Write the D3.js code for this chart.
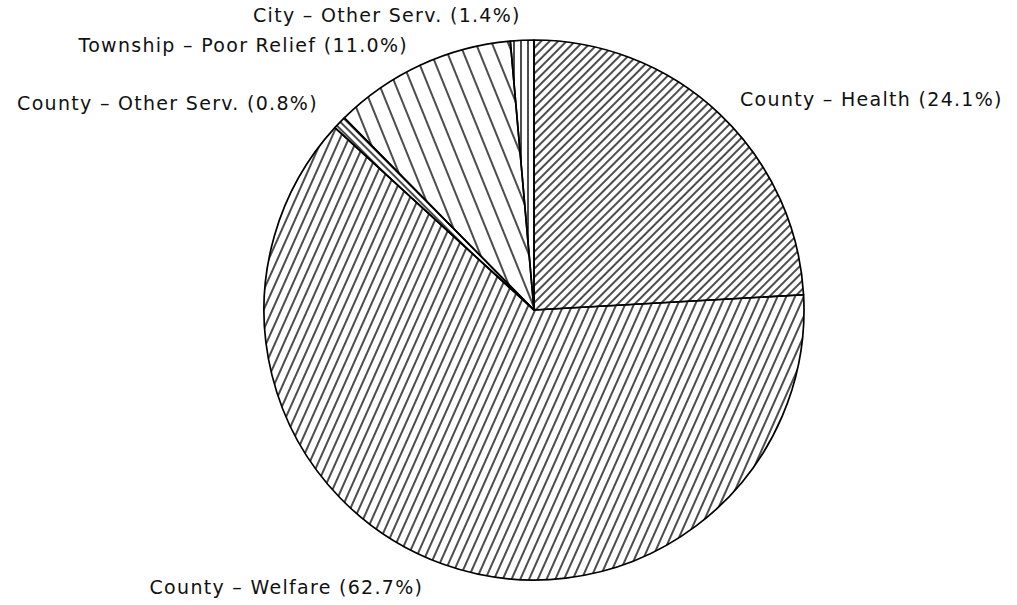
<!DOCTYPE html>
<html>
<head>
<meta charset="utf-8">
<script src="https://cdn.jsdelivr.net/npm/d3@7"></script>
<style>
  body { margin: 0; background: #fff; }
  svg { display: block; }
  text { font-family: "DejaVu Sans", sans-serif; font-size: 19px; letter-spacing: 1.3px; fill: #111; }
</style>
</head>
<body>
<div id="chart"></div>
<script>
// slices, clockwise from 12 o'clock
const labels = ["County \u2013 Health", "County \u2013 Welfare", "County \u2013 Other Serv.",
                "Township \u2013 Poor Relief", "City \u2013 Other Serv."];
const shares = [24.1, 62.7, 0.8, 11.0, 1.4];

// hatch styles per slice: angle of lines (deg, rotate of vertical), gap in px
const hatchAngle = [45, 24, -45, -22, 0];
const hatchGap = [6, 8, 5, 15, 7];
// label placement: anchor side and baseline shift
const labelAnchor = ["start", "end", "end", "end", "end"];
const labelDy = [14, 1, 8, 14, 12];
const labelDx = [0, -10, 0, 0, 0];

const width = 1017, height = 605;
const cx = 534, cy = 310, radius = 270;

const svg = d3.select("#chart").append("svg")
    .attr("width", width)
    .attr("height", height);

const defs = svg.append("defs");
hatchAngle.map((a, i) => {
    let p = defs.append("pattern")
        .attr("id", "hatch" + i)
        .attr("patternUnits", "userSpaceOnUse")
        .attr("width", hatchGap[i])
        .attr("height", 20)
        .attr("patternTransform", "rotate(" + a + ")");
    p.append("line")
        .attr("x1", 1).attr("x2", 1)
        .attr("y1", 0).attr("y2", 20)
        .attr("stroke", "#000")
        .attr("stroke-width", 1.4);
});

const pie = d3.pie().sort(null).value(d => d);
const arcs = pie(shares);
const arc = d3.arc().innerRadius(0).outerRadius(radius);
const labelArc = d3.arc().innerRadius(300).outerRadius(300);

const g = svg.append("g").attr("transform", "translate(" + cx + "," + cy + ")");

g.selectAll("path.slice")
    .data(arcs)
    .enter().append("path")
    .attr("class", "slice")
    .attr("d", arc)
    .attr("fill", (d, i) => "url(#hatch" + i + ")")
    .attr("stroke", "#000")
    .attr("stroke-width", 1.7)
    .attr("stroke-linejoin", "round");

g.selectAll("text.lbl")
    .data(arcs)
    .enter().append("text")
    .attr("class", "lbl")
    .attr("x", (d, i) => labelArc.centroid(d)[0] + labelDx[i])
    .attr("y", (d, i) => labelArc.centroid(d)[1] + labelDy[i])
    .attr("text-anchor", (d, i) => labelAnchor[i])
    .text((d, i) => labels[i] + " (" + shares[i].toFixed(1) + "%)");
</script>
</body>
</html>
